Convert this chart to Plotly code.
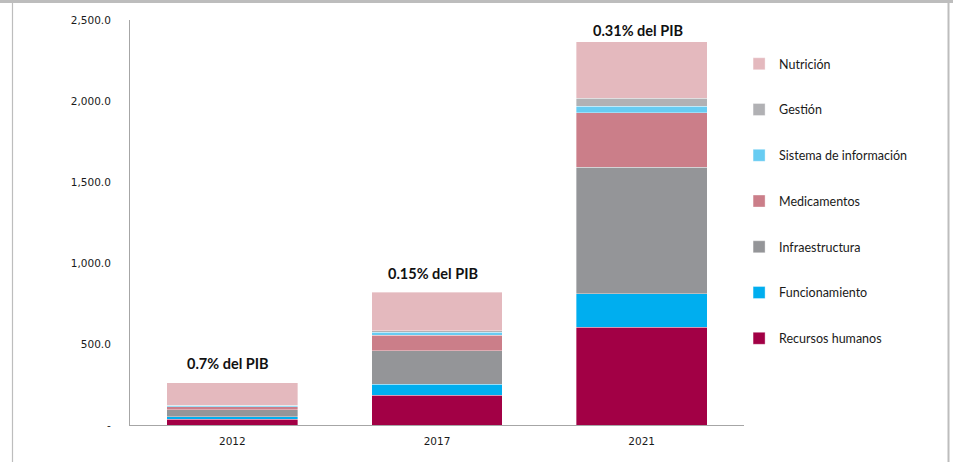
import plotly.graph_objects as go

years = ["2012", "2017", "2021"]
series_names = ["Recursos humanos", "Funcionamiento", "Infraestructura",
                "Medicamentos", "Sistema de información", "Gestión", "Nutrición"]
recursos_humanos = [35, 183, 603]
funcionamiento = [16, 68, 206]
infraestructura = [44, 206, 782]
medicamentos = [17, 96, 337]
sistema_informacion = [6, 20, 41]
gestion = [3, 10, 49]
nutricion = [140, 235, 348]
pib_labels = ["0.7% del PIB", "0.15% del PIB", "0.31% del PIB"]
y_tickvals = [0, 500, 1000, 1500, 2000, 2500]
y_ticktext = ["-", "500.0", "1,000.0", "1,500.0", "2,000.0", "2,500.0"]

colors = ["#A20045", "#00AEEF", "#949598", "#CB7E89", "#67CCF2", "#B1B1B4", "#E4B9BE"]
values = [recursos_humanos, funcionamiento, infraestructura, medicamentos,
          sistema_informacion, gestion, nutricion]

fig = go.Figure()
n = len(series_names)
for i, (name, vals, col) in enumerate(zip(series_names, values, colors)):
    fig.add_trace(go.Bar(
        x=years, y=vals, name=name, legendgroup=name, legendrank=n - i,
        marker=dict(color=col, line=dict(color="rgba(255,255,255,0.6)", width=0.6)),
    ))

totals = [sum(v[j] for v in values) for j in range(len(years))]
shifts = [9, 8, 1]
for j, (tot, lab, sh) in enumerate(zip(totals, pib_labels, shifts)):
    fig.add_annotation(x=j, y=tot, xref="x", yref="y", text="<b>" + lab + "</b>", showarrow=False,
                       yanchor="bottom", yshift=sh, xshift=-4,
                       font=dict(family="Lato", size=14.5, color="#111111"))

# outer frame
L, R, T, B = 130, 209, 20, 37
W, H = 953 - L - R, 462 - T - B
def px(xp):
    return (xp - L) / W
def py(yp):
    return (462 - B - yp) / H
frame_col = "#BDBDBD"
fig.add_shape(type="rect", xref="paper", yref="paper", x0=px(0), x1=px(953), y0=py(0), y1=py(3),
              fillcolor=frame_col, line_width=0, layer="below")
fig.add_shape(type="line", xref="paper", yref="paper", x0=px(12.5), x1=px(12.5), y0=py(3), y1=py(462),
              line=dict(color=frame_col, width=1.2))
fig.add_shape(type="line", xref="paper", yref="paper", x0=px(948.5), x1=px(948.5), y0=py(3), y1=py(462),
              line=dict(color=frame_col, width=2))

fig.update_layout(
    width=953, height=462,
    margin=dict(l=L, r=R, t=T, b=B),
    barmode="stack", bargap=0.36,
    plot_bgcolor="white", paper_bgcolor="white",
    showlegend=True,
    legend=dict(x=0.992, y=0.928, xanchor="left", yanchor="top",
                traceorder="grouped", tracegroupgap=26.5,
                font=dict(family="Lato", size=12.5, color="#1a1a1a"),
                itemwidth=30),
    xaxis=dict(type="category", range=[-0.5, 2.5], showline=True, linecolor="#A6A6A6",
               linewidth=1, ticks="",
               tickfont=dict(family="DejaVu Sans", size=10.5, color="#1a1a1a"),
               ticklabelstandoff=6),
    yaxis=dict(range=[0, 2500], tickvals=y_tickvals, ticktext=y_ticktext,
               showline=True, linecolor="#A6A6A6", linewidth=1, showgrid=False,
               zeroline=False, ticks="",
               tickfont=dict(family="DejaVu Sans", size=10.5, color="#1a1a1a"),
               ticklabelstandoff=16),
)

fig.write_html("out.html")
